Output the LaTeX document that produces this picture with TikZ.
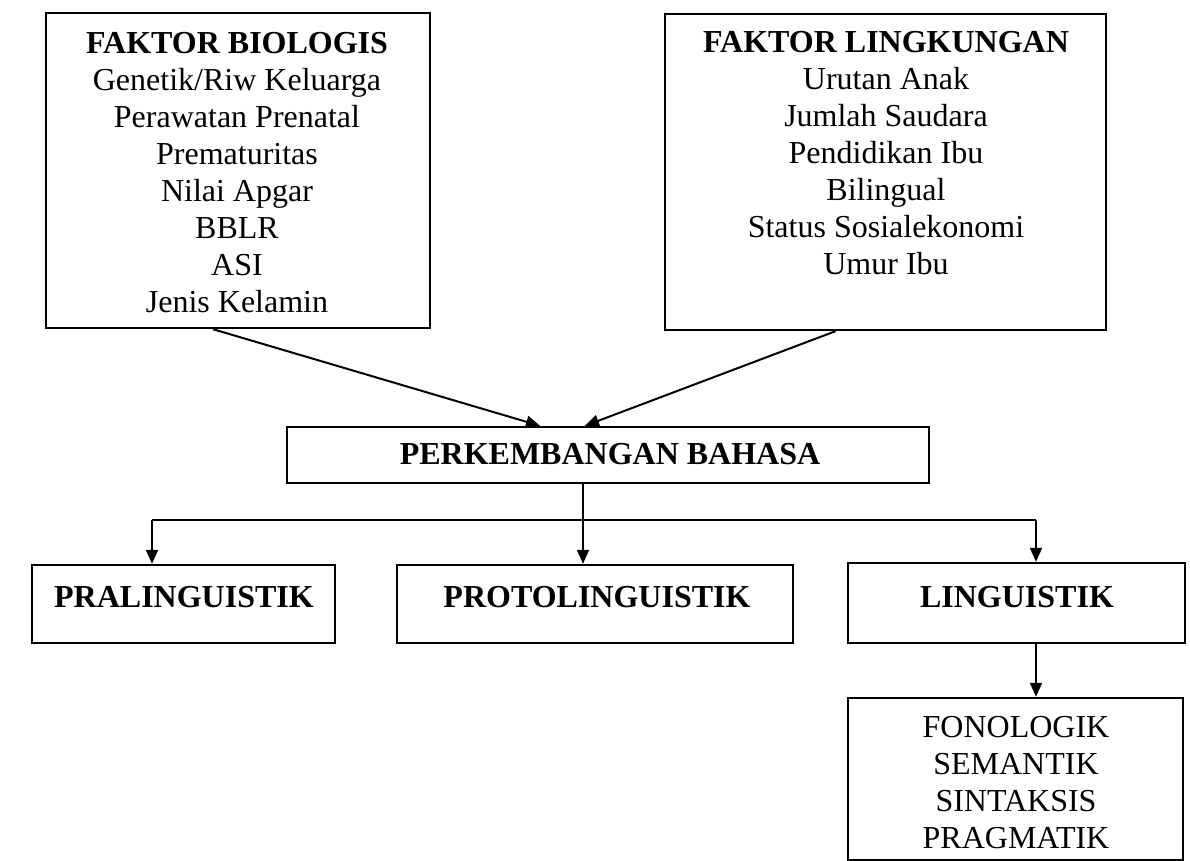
\documentclass[tikz,border=0pt]{standalone}
\usepackage{fontspec}
\setmainfont{Liberation Serif}
\usepackage{tikz}
\usetikzlibrary{positioning,calc,arrows.meta}
\tikzstyle{kotak}= [draw, line width=1.2pt, inner sep=0pt]
\tikzstyle{teks}= [inner sep=0pt, align=center, font=\fontsize{16}{18.5}\selectfont]
\tikzstyle{panah}= [line width=1pt, -{Triangle[length=7pt,width=6pt]}]

\begin{document}
\begin{tikzpicture}[x=0.5pt, y=-0.5pt]
						\useasboundingbox (0,0) rectangle (1190,861);
						\node[kotak, minimum width=192pt, minimum height=157.5pt] (bio) at (238, 170.5) {};
						\node[kotak, minimum width=220.5pt, minimum height=158pt] (ling) at (885.5, 172) {};
						\node[kotak, minimum width=321pt, minimum height=28pt] (kembang) at (608, 455) {};
						\node[kotak, minimum width=151.5pt, minimum height=39pt] (pra) at (183.5, 604) {};
						\node[kotak, minimum width=198pt, minimum height=39pt] (proto) at (595, 604) {};
						\node[kotak, minimum width=168.5pt, minimum height=40pt] (lingu) at (1016.5, 603) {};
						\node[kotak, minimum width=167.5pt, minimum height=81pt] (aspek) at (1015.5, 779) {};
						\node[teks, anchor=north] (biotxt) at (237, 32) {\textbf{FAKTOR BIOLOGIS}\\Genetik/Riw Keluarga\\Perawatan Prenatal\\Prematuritas\\Nilai Apgar\\BBLR\\ASI\\Jenis Kelamin};
						\node[teks, anchor=north] (lingtxt) at (886, 31) {\textbf{FAKTOR LINGKUNGAN}\\Urutan Anak\\Jumlah Saudara\\Pendidikan Ibu\\Bilingual\\Status Sosialekonomi\\Umur Ibu};
						\node[teks, anchor=base] (kembangtxt) at (610, 465) {\textbf{PERKEMBANGAN BAHASA}};
						\node[teks, anchor=base] (pratxt) at (184, 607) {\textbf{PRALINGUISTIK}};
						\node[teks, anchor=base] (prototxt) at (597, 607) {\textbf{PROTOLINGUISTIK}};
						\node[teks, anchor=base] (lingutxt) at (1017, 607) {\textbf{LINGUISTIK}};
						\node[teks, anchor=north] (aspektxt) at (1016, 716) {FONOLOGIK\\SEMANTIK\\SINTAKSIS\\PRAGMATIK};
						\coordinate (hub) at (583, 520);
						\coordinate (kiri) at (152, 520);
						\coordinate (kanan) at (1036, 520);
						\draw[panah]($(bio.south)+(-25,0)$) -- ($(kembang.north)+(-68,0)$);
						\draw[panah]($(ling.south)+(-50,0)$) -- ($(kembang.north)+(-23,0)$);
						\draw[panah](hub |- kembang.south) -- (hub |- proto.north);
						\draw[line width=1pt](kiri) -- (kanan);
						\draw[panah](kiri) -- (kiri |- pra.north);
						\draw[panah](kanan) -- (kanan |- lingu.north);
						\draw[panah](kanan |- lingu.south) -- (kanan |- aspek.north);
					\end{tikzpicture}
\end{document}
